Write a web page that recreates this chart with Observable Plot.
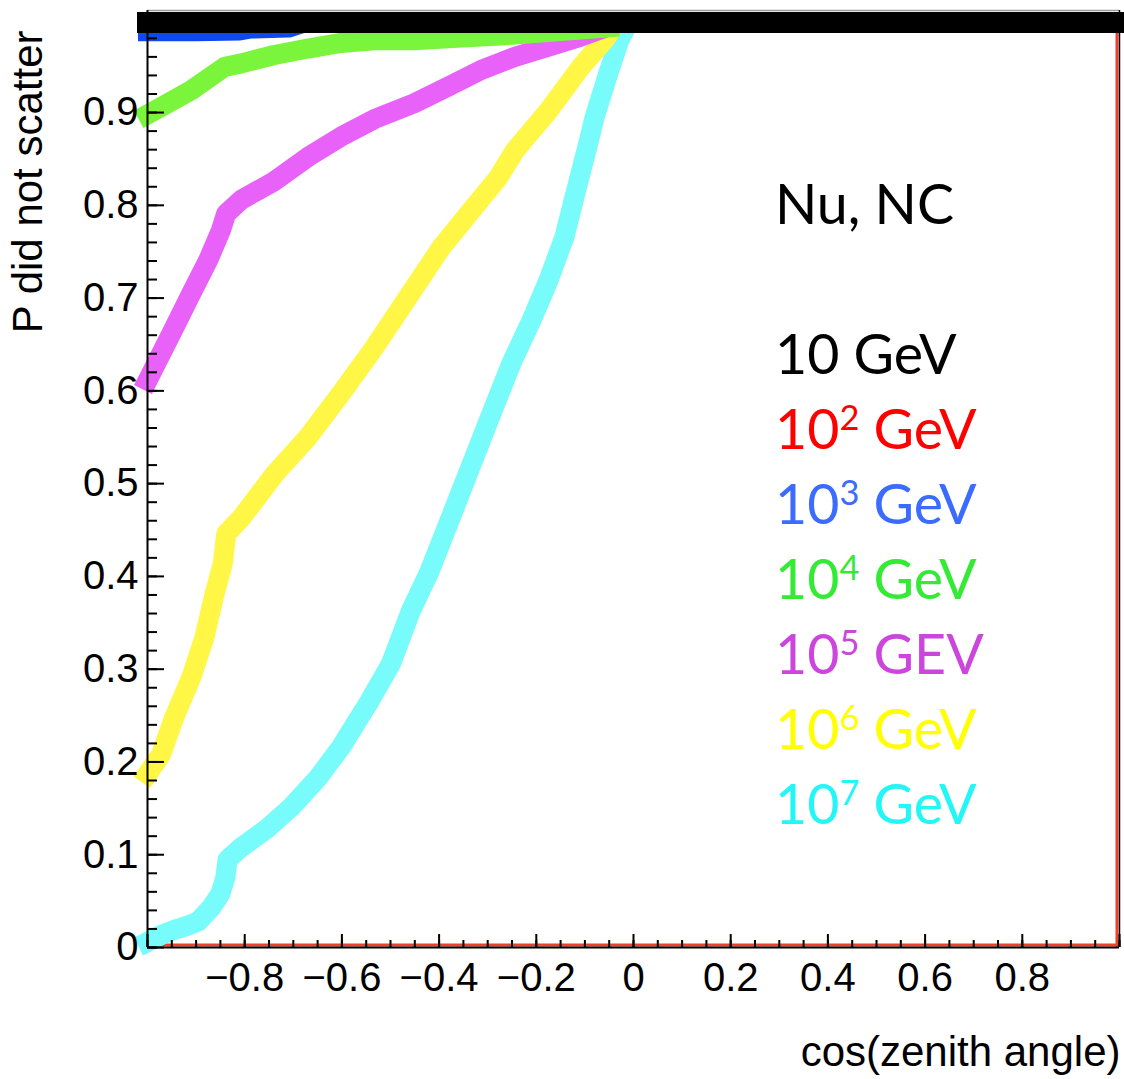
<!DOCTYPE html>
<html><head><meta charset="utf-8">
<script src="https://cdn.jsdelivr.net/npm/d3@7"></script>
<script src="https://cdn.jsdelivr.net/npm/@observablehq/plot@0.6"></script>
<style>
html,body{margin:0;padding:0;background:#fff;}
#wrap{position:relative;width:1124px;height:1079px;overflow:hidden;}
#legend{position:absolute;left:775px;top:165px;font-family:Lato,"Open Sans",sans-serif;font-size:55.5px;color:#000;}
#legend div{height:75px;line-height:75px;white-space:nowrap;}
#legend sup{font-size:0.62em;vertical-align:0.55em;line-height:0;}
</style></head><body><div id="wrap"></div>
<script>
// ---- data ----
const xDomain = [-1, 1];
const yDomain = [0, 1.01];

// 10 GeV
const x10 = [-1, 1];
const p10 = [0.997, 0.997];
// 10^2 GeV (histogram outline, value ~1 everywhere)
const x1e2 = [-1, 1];
const p1e2 = [0.997, 0.997];
// 10^3 GeV
const x1e3 = [-1, -0.9, -0.81, -0.79, -0.71, -0.68, -0.3, 0, 1];
const p1e3 = [0.987, 0.987, 0.988, 0.990, 0.991, 0.996, 0.997, 0.998, 0.998];
// 10^4 GeV
const x1e4 = [-1, -0.972, -0.91, -0.842, -0.807, -0.739, -0.67, -0.602, -0.533, -0.451, -0.381, -0.313, -0.244, -0.15, -0.05];
const p1e4 = [0.898, 0.906, 0.924, 0.949, 0.953, 0.962, 0.969, 0.975, 0.978, 0.978, 0.980, 0.982, 0.984, 0.988, 0.992];
// 10^5 GeV
const x1e5 = [-1, -0.972, -0.945, -0.91, -0.875, -0.849, -0.838, -0.807, -0.739, -0.67, -0.602, -0.533, -0.451, -0.381, -0.313, -0.244, -0.175, -0.107, -0.066];
const p1e5 = [0.611, 0.640, 0.668, 0.705, 0.741, 0.773, 0.791, 0.806, 0.826, 0.852, 0.874, 0.893, 0.910, 0.928, 0.946, 0.960, 0.971, 0.982, 0.990];
// 10^6 GeV
const x1e6 = [-1, -0.972, -0.945, -0.91, -0.883, -0.862, -0.845, -0.838, -0.807, -0.739, -0.67, -0.602, -0.533, -0.464, -0.395, -0.328, -0.278, -0.244, -0.175, -0.107, -0.06, -0.045];
const p1e6 = [0.187, 0.208, 0.248, 0.291, 0.334, 0.381, 0.414, 0.446, 0.463, 0.510, 0.550, 0.597, 0.647, 0.701, 0.755, 0.798, 0.830, 0.859, 0.902, 0.950, 0.978, 0.990];
// 10^7 GeV
const x1e7 = [-1, -0.97, -0.945, -0.92, -0.896, -0.869, -0.85, -0.84, -0.835, -0.807, -0.752, -0.705, -0.649, -0.602, -0.546, -0.499, -0.458, -0.42, -0.354, -0.292, -0.251, -0.21, -0.175, -0.142, -0.12, -0.093, -0.08, -0.052, -0.029, -0.015];
const p1e7 = [0.006, 0.014, 0.019, 0.023, 0.028, 0.043, 0.058, 0.075, 0.095, 0.108, 0.129, 0.151, 0.183, 0.216, 0.263, 0.306, 0.363, 0.405, 0.493, 0.576, 0.630, 0.676, 0.719, 0.766, 0.812, 0.867, 0.895, 0.942, 0.978, 0.992];

// tick labels
const xTicks = [-0.8, -0.6, -0.4, -0.2, 0, 0.2, 0.4, 0.6, 0.8];
const yTicks = [0, 0.1, 0.2, 0.3, 0.4, 0.5, 0.6, 0.7, 0.8, 0.9];
const xMinorTicks = d3.range(-20, 21).map(i => i * 0.05);
const yMinorTicks = d3.range(0, 51).map(i => i * 0.02);
const xMajorTicks = d3.range(-5, 6).map(i => i * 0.2);

const yLabel = "P did not scatter";
const xLabel = "cos(zenith angle)";

const legendTitle = "Nu, NC";
const legendBase = ["10", "10", "10", "10", "10", "10", "10"];
const legendExp = ["", "2", "3", "4", "5", "6", "7"];
const legendUnit = ["GeV", "GeV", "GeV", "GeV", "GEV", "GeV", "GeV"];
const legendColors = ["#000000", "#ff0000", "#3b6bff", "#35ea35", "#cc46dd", "#ffff00", "#22f6f6"];

// ---- build tables ----
const rows = (xs, ys) => xs.map((x, i) => ({x, y: ys[i]}));
// 10^2 GeV histogram: its bottom edge (y=0) and right edge (x=xmax) remain visible
const histBottom = [{x1: x1e2[0], x2: x1e2[x1e2.length - 1], y: 0}];
const histRight = [{x: x1e2[x1e2.length - 1], y1: 0, y2: p1e2[p1e2.length - 1]}];

const font = "'Liberation Sans', Arial, Helvetica, sans-serif";
const fmt = d => (Math.abs(d) < 1e-9 ? "0" : String(+d.toFixed(2)).replace("-", "\u2212"));

const lineOpts = (color, w = 20) => ({x: "x", y: "y", stroke: color, strokeWidth: w, strokeLinecap: "square", strokeLinejoin: "round", curve: "linear"});

const chart = Plot.plot({
  width: 1124,
  height: 1079,
  marginLeft: 147,
  marginRight: 5,
  marginTop: 10,
  marginBottom: 132,
  style: {fontFamily: font, background: "#fff", overflow: "visible"},
  x: {domain: xDomain, label: null},
  y: {domain: yDomain, label: null},
  marks: [
    Plot.ruleY(histBottom, {x1: "x1", x2: "x2", y: "y", stroke: "#f0402a", strokeWidth: 3, dy: -2.5}),
    Plot.ruleX(histRight, {x: "x", y1: "y1", y2: "y2", stroke: "#f0402a", strokeWidth: 3, dx: -2.5}),
    Plot.line(rows(x1e7, p1e7), lineOpts("#78fbfb")),
    Plot.line(rows(x1e6, p1e6), lineOpts("#fff646")),
    Plot.line(rows(x1e5, p1e5), lineOpts("#e861f8")),
    Plot.line(rows(x1e4, p1e4), lineOpts("#7af53c")),
    Plot.line(rows(x1e3, p1e3), lineOpts("#1048f0", 19)),
    Plot.line(rows(x10, p10), lineOpts("#000000", 21)),
    // frame
    Plot.ruleY([yDomain[1]], {stroke: "#9a9a9a", strokeWidth: 1.5}),
    Plot.ruleX([xDomain[1]], {stroke: "#000", strokeWidth: 1.5}),
    Plot.ruleX([xDomain[0]], {stroke: "#000", strokeWidth: 2}),
    Plot.ruleY([yDomain[0]], {stroke: "#000", strokeWidth: 2}),
    // ticks (inside)
    Plot.axisY({ticks: yTicks, tickSize: -17, text: null, strokeWidth: 2, label: null}),
    Plot.axisY({ticks: yMinorTicks, tickSize: -10, text: null, strokeWidth: 2, label: null}),
    Plot.axisX({ticks: xMajorTicks, tickSize: -13, text: null, strokeWidth: 2, label: null}),
    Plot.axisX({ticks: xMinorTicks, tickSize: -7, text: null, strokeWidth: 2, label: null}),
    // tick labels
    Plot.axisY({ticks: yTicks, tickSize: 0, tickPadding: 9, tickFormat: fmt, fontSize: 40, fill: "#000", label: null}),
    Plot.axisX({ticks: xTicks, tickSize: 0, tickPadding: 15, tickFormat: fmt, fontSize: 40, fill: "#000", label: null}),
    // axis titles
    Plot.text([yLabel], {frameAnchor: "top-left", text: d => d, rotate: -90, textAnchor: "end", dx: -135, dy: 20, fontSize: 42, fill: "#000"}),
    Plot.text([xLabel], {frameAnchor: "bottom-right", text: d => d, textAnchor: "end", dx: 1, dy: 118, fontSize: 42, fill: "#000"})
  ]
});

const wrap = document.getElementById("wrap");
wrap.appendChild(chart);

const legend = document.createElement("div");
legend.id = "legend";
let html = `<div>${legendTitle}</div><div>&nbsp;</div>`;
legendBase.forEach((b, i) => {
  html += `<div style="color:${legendColors[i]}">${b}${legendExp[i] ? `<sup>${legendExp[i]}</sup>` : ""} ${legendUnit[i]}</div>`;
});
legend.innerHTML = html;
wrap.appendChild(legend);
</script></body></html>
